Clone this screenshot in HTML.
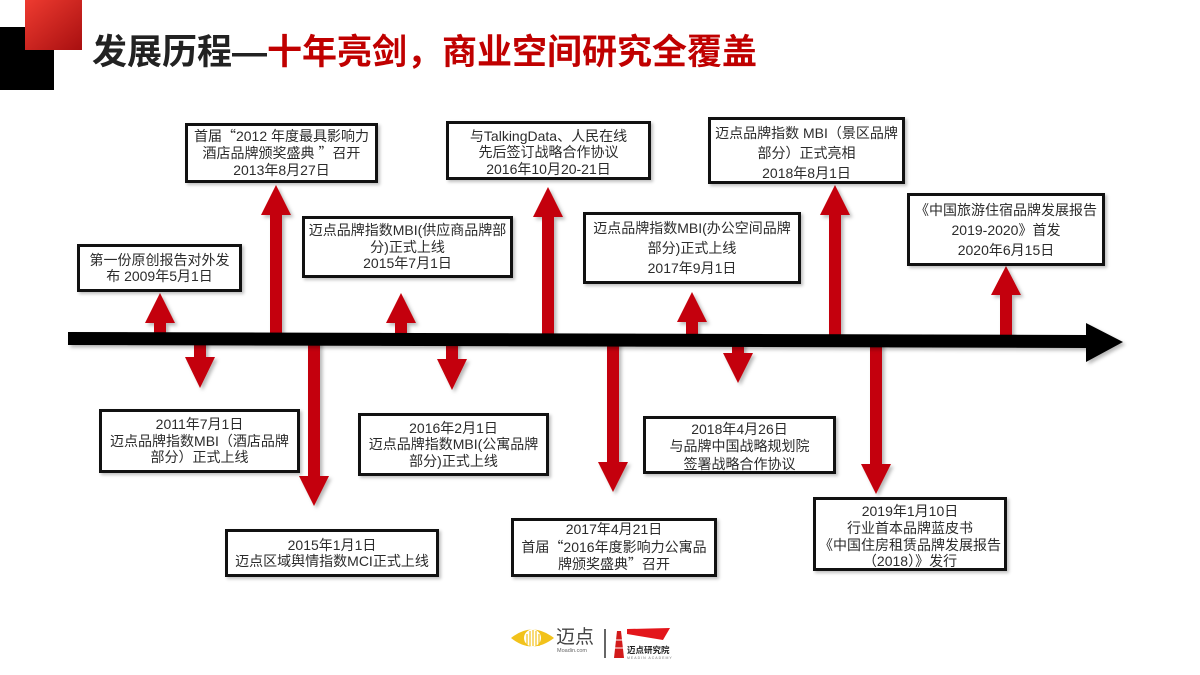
<!DOCTYPE html>
<html>
<head>
<meta charset="utf-8">
<style>
  html,body{margin:0;padding:0;}
  body{width:1200px;height:675px;position:relative;overflow:hidden;background:#fff;
       font-family:"Liberation Sans","Noto Sans CJK SC",sans-serif;}
  .title{position:absolute;left:92px;top:34px;font-size:35px;line-height:38px;font-weight:bold;
         font-family:"Liberation Sans","Noto Sans CJK SC",sans-serif;white-space:nowrap;letter-spacing:0px;}
  .title .d{color:#222;}
  .title .r{color:#c00000;}
  .box{position:absolute;box-sizing:border-box;border:3px solid #111;background:#fff;
       box-shadow:2px 2px 3px rgba(0,0,0,0.25);display:flex;flex-direction:column;
       justify-content:center;align-items:center;color:#2b2b2b;font-size:14px;white-space:nowrap;}
  .box div{text-align:center;}
  .q{font-family:"Noto Sans CJK SC",sans-serif;}
</style>
</head>
<body>

<svg width="1200" height="675" style="position:absolute;left:0;top:0;" xmlns="http://www.w3.org/2000/svg">
  <defs>
    <linearGradient id="rg" x1="0" y1="0" x2="1" y2="1">
      <stop offset="0" stop-color="#ee3b30"/>
      <stop offset="1" stop-color="#a80f10"/>
    </linearGradient>
    <filter id="sh" x="-20%" y="-20%" width="160%" height="160%">
      <feDropShadow dx="2.5" dy="2.5" stdDeviation="1.8" flood-color="#000" flood-opacity="0.28"/>
    </filter>
  </defs>

  <!-- corner squares -->
  <rect x="0" y="27" width="54" height="63" fill="#000"/>
  <rect x="25" y="0" width="57" height="50" fill="url(#rg)"/>

  <g fill="#c40008" filter="url(#sh)">
    <!-- up arrows -->
    <polygon points="145,323 160,293 175,323 166,323 166,334 154,334 154,323"/>
    <polygon points="261,215 276,185 291,215 282,215 282,334 270,334 270,215"/>
    <polygon points="386,323 401,293 416,323 407,323 407,334 395,334 395,323"/>
    <polygon points="533,217 548,187 563,217 554,217 554,334 542,334 542,217"/>
    <polygon points="677,322 692,292 707,322 698,322 698,335 686,335 686,322"/>
    <polygon points="820,215 835,185 850,215 841,215 841,335 829,335 829,215"/>
    <polygon points="991,295 1006,266 1021,295 1012,295 1012,336 1000,336 1000,295"/>
    <!-- down arrows -->
    <polygon points="185,357 194,357 194,340 206,340 206,357 215,357 200,388"/>
    <polygon points="299,476 308,476 308,340 320,340 320,476 329,476 314,506"/>
    <polygon points="437,359 446,359 446,340 458,340 458,359 467,359 452,390"/>
    <polygon points="598,462 607,462 607,340 619,340 619,462 628,462 613,492"/>
    <polygon points="723,353 732,353 732,340 744,340 744,353 753,353 738,383"/>
    <polygon points="861,464 870,464 870,340 882,340 882,464 891,464 876,494"/>
  </g>

  <!-- axis -->
  <polygon filter="url(#sh)" fill="#000"
    points="68,332 1086,335 1086,323 1123,342 1086,362 1086,348 68,345"/>

  <!-- footer logo -->
  <path d="M511,638 Q532,621 554,638 Q532,655 511,638 Z" fill="#f2c21b"/>
  <circle cx="532.5" cy="638" r="8.5" fill="#fff"/>
  <g stroke="#f2c21b" stroke-width="1.2">
    <line x1="527" y1="646" x2="527" y2="634"/>
    <line x1="530" y1="646" x2="530" y2="631"/>
    <line x1="533" y1="646" x2="533" y2="630"/>
    <line x1="536" y1="646" x2="536" y2="631"/>
    <line x1="539" y1="646" x2="539" y2="634"/>
  </g>
  <line x1="605" y1="629" x2="605" y2="658" stroke="#666" stroke-width="2"/>
  <polygon points="617,631 621,631 624,658 614,658" fill="#d21a1a"/>
  <line x1="615.5" y1="640" x2="622.5" y2="640" stroke="#fff" stroke-width="1"/>
  <line x1="615" y1="648" x2="623" y2="648" stroke="#fff" stroke-width="1"/>
  <polygon points="627,629 670,628 663,640 627,634" fill="#e3161b"/>
</svg>

<div class="title"><span class="d">发展历程—</span><span class="r">十年亮剑，商业空间研究全覆盖</span></div>

<!-- top boxes -->
<div class="box" style="left:185px;top:123px;width:193px;height:60px;line-height:17px;">
  <div>首届<span class="q">“</span>2012 年度最具影响力</div>
  <div>酒店品牌颁奖盛典 <span class="q">”</span>召开</div>
  <div>2013年8月27日</div>
</div>
<div class="box" style="left:77px;top:244px;width:165px;height:48px;line-height:16px;">
  <div>第一份原创报告对外发</div>
  <div>布 2009年5月1日</div>
</div>
<div class="box" style="left:302px;top:216px;width:211px;height:62px;line-height:16.5px;">
  <div>迈点品牌指数MBI(供应商品牌部</div>
  <div>分)正式上线</div>
  <div>2015年7月1日</div>
</div>
<div class="box" style="left:446px;top:121px;width:205px;height:59px;line-height:16.5px;padding-top:4px;">
  <div>与TalkingData、人民在线</div>
  <div>先后签订战略合作协议</div>
  <div>2016年10月20-21日</div>
</div>
<div class="box" style="left:583px;top:212px;width:218px;height:72px;line-height:20px;">
  <div>迈点品牌指数MBI(办公空间品牌</div>
  <div>部分)正式上线</div>
  <div>2017年9月1日</div>
</div>
<div class="box" style="left:708px;top:117px;width:197px;height:67px;line-height:20px;padding-top:4px;">
  <div>迈点品牌指数 MBI（景区品牌</div>
  <div>部分）正式亮相</div>
  <div>2018年8月1日</div>
</div>
<div class="box" style="left:907px;top:193px;width:198px;height:73px;line-height:20px;">
  <div>《中国旅游住宿品牌发展报告</div>
  <div>2019-2020》首发</div>
  <div>2020年6月15日</div>
</div>

<!-- bottom boxes -->
<div class="box" style="left:99px;top:409px;width:201px;height:64px;line-height:16.5px;">
  <div>2011年7月1日</div>
  <div>迈点品牌指数MBI（酒店品牌</div>
  <div>部分）正式上线</div>
</div>
<div class="box" style="left:225px;top:529px;width:214px;height:48px;line-height:16px;">
  <div>2015年1月1日</div>
  <div>迈点区域舆情指数MCI正式上线</div>
</div>
<div class="box" style="left:358px;top:413px;width:191px;height:63px;line-height:16.5px;">
  <div>2016年2月1日</div>
  <div>迈点品牌指数MBI(公寓品牌</div>
  <div>部分)正式上线</div>
</div>
<div class="box" style="left:511px;top:518px;width:206px;height:59px;line-height:17.5px;">
  <div>2017年4月21日</div>
  <div>首届<span class="q">“</span>2016年度影响力公寓品</div>
  <div>牌颁奖盛典<span class="q">”</span>召开</div>
</div>
<div class="box" style="left:643px;top:416px;width:193px;height:58px;line-height:17.5px;padding-top:4px;">
  <div>2018年4月26日</div>
  <div>与品牌中国战略规划院</div>
  <div>签署战略合作协议</div>
</div>
<div class="box" style="left:813px;top:497px;width:194px;height:74px;line-height:16.7px;padding-top:5px;">
  <div>2019年1月10日</div>
  <div>行业首本品牌蓝皮书</div>
  <div>《中国住房租赁品牌发展报告</div>
  <div>（2018）》发行</div>
</div>

<!-- footer texts -->
<div style="position:absolute;left:556px;top:625px;font-size:19px;line-height:22px;color:#444;font-family:'Noto Sans CJK SC',sans-serif;">迈点</div>
<div style="position:absolute;left:557px;top:648px;font-size:5.5px;line-height:6px;color:#666;">Moadin.com</div>
<div style="position:absolute;left:627px;top:645px;font-size:8.5px;line-height:10px;font-weight:bold;color:#222;font-family:'Noto Sans CJK SC',sans-serif;white-space:nowrap;">迈点研究院</div>
<div style="position:absolute;left:627px;top:656px;font-size:3.5px;line-height:4px;color:#777;letter-spacing:1px;white-space:nowrap;">MEADIN ACADEMY</div>

</body>
</html>
